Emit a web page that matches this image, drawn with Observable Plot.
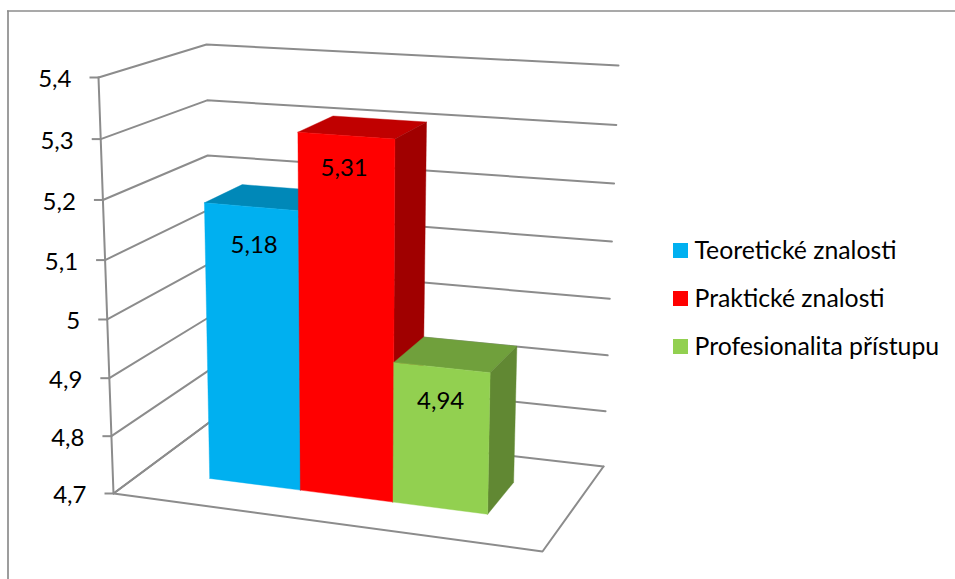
<!DOCTYPE html>
<html lang="cs">
<head>
<meta charset="utf-8">
<title>Znalosti a profesionalita</title>
<script src="https://cdn.jsdelivr.net/npm/d3@7"></script>
<script src="https://cdn.jsdelivr.net/npm/@observablehq/plot@0.6"></script>
<style>
  html, body { margin: 0; padding: 0; background: #fff; }
  svg { display: block; }
</style>
</head>
<body>
<div id="chart"></div>
<script>
// Chart values
const seriesNames = ["Teoretické znalosti", "Praktické znalosti", "Profesionalita přístupu"];
const seriesValues = [5.18, 5.31, 4.94];
const axisTicks = [4.7, 4.8, 4.9, 5, 5.1, 5.2, 5.3, 5.4];

// Face colours of each column
const frontColors = ["#00B0F0", "#FF0000", "#92D050"];
const topColors = ["#0088B8", "#C00000", "#70A03C"];
const sideColors = ["#006F99", "#A00000", "#618833"];

const W = 955, H = 579;
const gridColor = "#8C8C8C";
const font = "Lato, Carlito, Calibri, sans-serif";

// Box that holds the chart, as seen on the page: [x, y] of its eight corners
const box = {
  floor: {fl: [113, 493], fr: [542, 551], bl: [210, 421], br: [603, 466]},
  ceil:  {fl: [98, 77],   fr: [552, 108], bl: [206, 44],  br: [618, 65]}
};
const vMin = 4.7, vMax = 5.4;

// Foreshortening along an edge
const foreshorten = (t, r) => t / (t + r * (1 - t));
const mix = (a, b, t) => [a[0] + (b[0] - a[0]) * t, a[1] + (b[1] - a[1]) * t];

// Maps width position u, depth d (both 0..1) and a value v onto the page
function project(u, d, v) {
  const s = foreshorten(u, 1.05);
  const t = foreshorten((v - vMin) / (vMax - vMin), 1.043);
  const corner = (lvl) =>
    mix(mix(lvl.fl, lvl.fr, s), mix(lvl.bl, lvl.br, s), d);
  return mix(corner(box.floor), corner(box.ceil), t);
}

// Placement of the columns inside the box
const firstEdge = 0.1615, slot = 0.2222;
const depthFront = 0.325, depthBack = 0.71;

const pts = (list) => list.map(([u, d, v]) => {
  const [x, y] = project(u, d, v);
  return {x, y};
});

// One filled polygon per column face, back to front
function columnFaces(i) {
  const u0 = firstEdge + i * slot, u1 = u0 + slot;
  const v = seriesValues[i];
  const style = (fill) => ({x: "x", y: "y", fill, stroke: fill, strokeWidth: 0.4});
  return [
    Plot.line(pts([[u0, depthFront, v], [u1, depthFront, v], [u1, depthBack, v], [u0, depthBack, v], [u0, depthFront, v]]), style(topColors[i])),
    Plot.line(pts([[u1, depthFront, vMin], [u1, depthBack, vMin], [u1, depthBack, v], [u1, depthFront, v], [u1, depthFront, vMin]]), style(sideColors[i])),
    Plot.line(pts([[u0, depthFront, vMin], [u1, depthFront, vMin], [u1, depthFront, v], [u0, depthFront, v], [u0, depthFront, vMin]]), style(frontColors[i]))
  ];
}

const gridStyle = {x: "x", y: "y", stroke: gridColor, strokeWidth: 2};

// Value labels sit a little below the top edge of the front face
const labelDrop = [39, 33, 34];
const labelShift = [3, -2, -1];
const labels = seriesValues.map((v, i) => {
  const [x, y] = project(firstEdge + (i + 0.5) * slot, depthFront, v);
  return {x: x + labelShift[i], y: y + labelDrop[i], text: String(v).replace(".", ",")};
});

const axisPoints = axisTicks.map((v) => {
  const [x, y] = project(0, 0, v);
  return {x, y, text: String(v).replace(".", ",")};
});

// Legend rows
const legendLeft = 673, legendTop = 243, legendStep = 48, swatch = 15;
const legendRows = seriesNames.map((name, i) => ({
  name, color: frontColors[i], y: legendTop + i * legendStep
}));

const chart = Plot.plot({
  width: W,
  height: H,
  margin: 0,
  x: {domain: [0, W], range: [0, W], axis: null},
  y: {domain: [0, H], range: [0, H], axis: null},
  marks: [
    // Outer border of the chart area
    Plot.ruleX([7.5], {y1: 10.5, y2: H, stroke: gridColor, strokeWidth: 1.7}),
    Plot.ruleY([10.5], {x1: 7, x2: W, stroke: gridColor, strokeWidth: 1.7}),

    // Gridlines along the side wall and the back wall
    ...axisTicks.map((v) => Plot.line(pts([[0, 0, v], [0, 1, v], [1, 1, v]]), gridStyle)),
    // Floor edges and the value axis
    Plot.line(pts([[0, 1, vMin], [0, 0, vMin], [1, 0, vMin], [1, 1, vMin]]), gridStyle),
    Plot.line(pts([[0, 0, vMax], [0, 0, vMin]]), gridStyle),
    Plot.link(axisPoints, {x1: (d) => d.x - 9, y1: "y", x2: "x", y2: "y", stroke: gridColor, strokeWidth: 2}),
    Plot.text(axisPoints, {
      x: "x", y: "y", text: "text", dx: -27, dy: 2, textAnchor: "end",
      fontFamily: font, fontSize: 24, fill: "#000"
    }),

    // Columns
    ...seriesValues.flatMap((_, i) => columnFaces(i)),
    Plot.text(labels, {x: "x", y: "y", text: "text", fontFamily: font, fontSize: 24, fill: "#000"}),

    // Legend
    Plot.rect(legendRows, {
      x1: () => legendLeft, x2: () => legendLeft + swatch,
      y1: "y", y2: (d) => d.y + swatch, fill: (d) => d.color, inset: 0
    }),
    Plot.text(legendRows, {
      x: () => legendLeft + 21, y: (d) => d.y + swatch / 2, text: "name",
      textAnchor: "start", fontFamily: font, fontSize: 24.8, fill: "#000"
    })
  ]
});
document.getElementById("chart").append(chart);
</script>
</body>
</html>
